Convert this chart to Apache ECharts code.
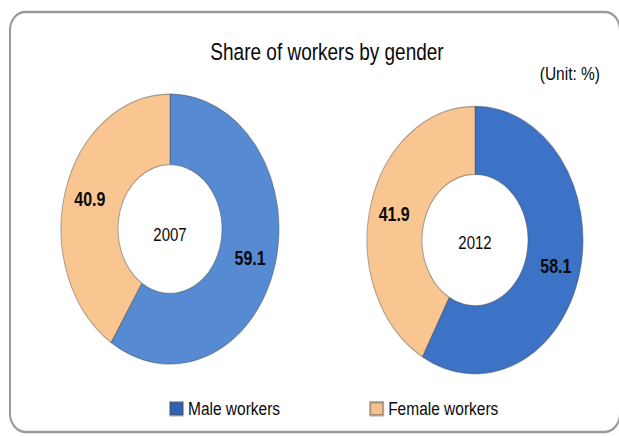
<!DOCTYPE html>
<html>
<head>
<meta charset="utf-8">
<script src="https://cdn.jsdelivr.net/npm/echarts@6/dist/echarts.min.js"></script>
<style>
  html, body { margin: 0; padding: 0; background: #ffffff; overflow: hidden; }
  #wrap { width: 619px; height: 436px; overflow: hidden; position: relative; }
  #chart { width: 619px; height: 352px; transform-origin: 0 0; transform: scaleY(1.2386); }
</style>
</head>
<body>
<div id="wrap"><div id="chart"></div></div>
<script>
// ---- data ----
const years = ['2007', '2012'];
const categories = ['Male workers', 'Female workers'];
const maleShare = [59.1, 58.1];
const femaleShare = [40.9, 41.9];
const titleText = 'Share of workers by gender';
const unitText = '(Unit: %)';

// ---- styling ----
const FONT = '"Liberation Sans", Arial, Helvetica, sans-serif';
const maleColors = ['#568bd3', '#3c73c6'];
const femaleColor = '#f9c692';
const legendMale = '#2f62b5';
const legendFemale = '#f6c08d';
const centers = [[170, 184.9], [475, 193.8]];
const radii = [[52, 109], [53, 108]];

const chart = echarts.init(document.getElementById('chart'), null, { renderer: 'svg' });

const series = years.map((yr, i) => ({
  type: 'pie',
  name: yr,
  center: centers[i],
  radius: radii[i],
  startAngle: 90,
  clockwise: true,
  avoidLabelOverlap: false,
  silent: true,
  itemStyle: { borderColor: 'rgba(70,70,70,0.45)', borderWidth: 1 },
  label: {
    show: true,
    position: 'inside',
    formatter: (p) => p.value.toFixed(1),
    color: '#0a0a0a',
    fontFamily: FONT,
    fontWeight: 'bold',
    fontSize: 16
  },
  labelLine: { show: false },
  emphasis: { disabled: true },
  data: [
    { name: categories[0], value: maleShare[i], itemStyle: { color: maleColors[i] } },
    { name: categories[1], value: femaleShare[i], itemStyle: { color: femaleColor } }
  ]
}));

const option = {
  animation: false,
  backgroundColor: '#ffffff',
  title: {
    text: titleText,
    left: 322,
    textAlign: 'center',
    top: 28,
    textStyle: { fontFamily: FONT, fontSize: 19, fontWeight: 'normal', color: '#0a0a0a' }
  },
  legend: {
    left: 169,
    top: 322,
    padding: 0,
    itemWidth: 13,
    itemHeight: 10.5,
    itemGap: 89,
    icon: 'rect',
    selectedMode: false,
    textStyle: { fontFamily: FONT, fontSize: 15.5, color: '#0a0a0a' },
    data: [
      { name: categories[0], itemStyle: { color: legendMale } },
      { name: categories[1], itemStyle: { color: legendFemale } }
    ]
  },
  graphic: [
    {
      type: 'rect',
      silent: true,
      z: -10,
      shape: { x: 10, y: 9.7, width: 610, height: 339, r: 15 },
      style: { fill: 'none', stroke: '#9a9a9a', lineWidth: 2 }
    },
    {
      type: 'text', x: 600, y: 59.3, silent: true,
      style: { text: unitText, textAlign: 'right', textVerticalAlign: 'middle', font: '15.5px ' + FONT, fill: '#0a0a0a' }
    },
    {
      type: 'text', x: centers[0][0], y: 189.5, silent: true,
      style: { text: years[0], textAlign: 'center', textVerticalAlign: 'middle', font: '15px ' + FONT, fill: '#0a0a0a' }
    },
    {
      type: 'text', x: centers[1][0], y: 195.8, silent: true,
      style: { text: years[1], textAlign: 'center', textVerticalAlign: 'middle', font: '15px ' + FONT, fill: '#0a0a0a' }
    }
  ],
  series: series
};

chart.setOption(option);
</script>
</body>
</html>
